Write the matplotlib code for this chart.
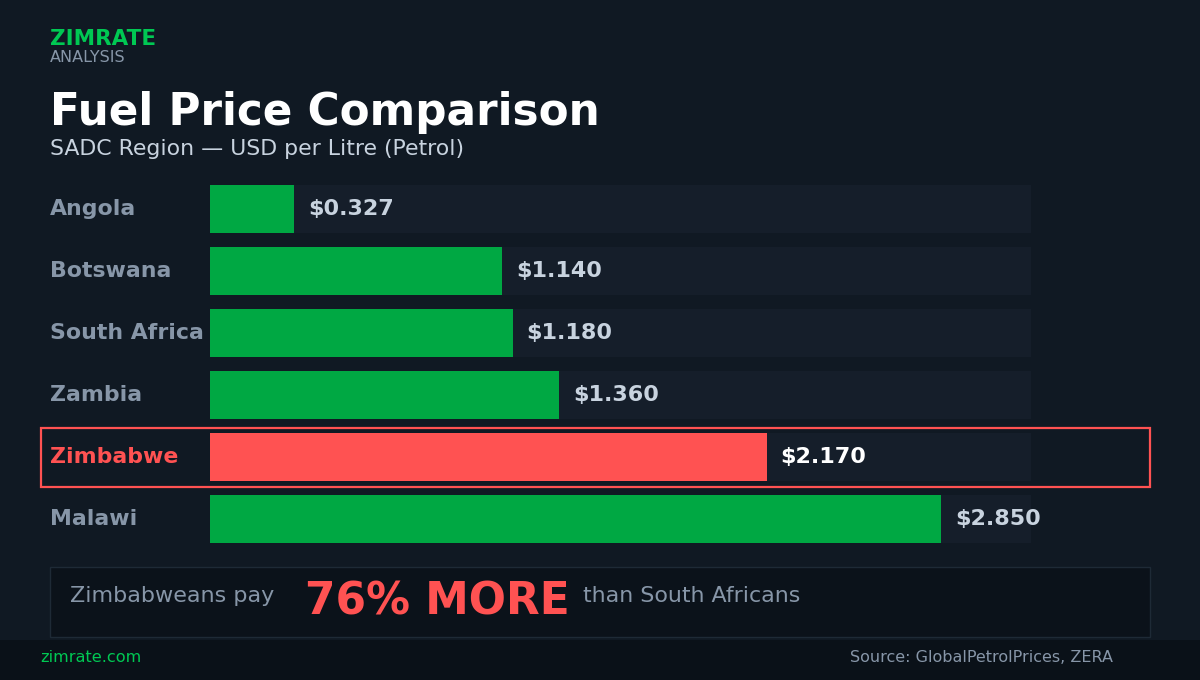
import matplotlib.pyplot as plt
from matplotlib.patches import Rectangle

plt.rcParams['font.family'] = ['DejaVu Sans']

countries = ["Angola", "Botswana", "South Africa", "Zambia", "Zimbabwe", "Malawi"]
prices = [0.327, 1.140, 1.180, 1.360, 2.170, 2.850]
highlight = "Zimbabwe"
track_max = 3.2

W, H = 1200, 680
bg = "#101923"
green = "#00a843"
red = "#ff5252"
track = "#151e2a"
label_gray = "#8796a8"
value_col = "#c8d3df"


def fx(px):
    return px / W


def fy(py):
    return 1 - py / H


fig = plt.figure(figsize=(12, 6.8), dpi=100, facecolor=bg)

# footer band and callout box
fig.patches.append(Rectangle((0, 0), 1, fy(640), transform=fig.transFigure,
                             facecolor="#0a1118", edgecolor="none", zorder=0))
fig.patches.append(Rectangle((fx(50), fy(637)), fx(1100), 70 / H, transform=fig.transFigure,
                             facecolor="#0b121a", edgecolor="#1e2a36", lw=1, zorder=0))
# highlight frame around Zimbabwe row
fig.patches.append(Rectangle((fx(41), fy(487)), fx(1109), 59 / H, transform=fig.transFigure,
                             facecolor="none", edgecolor=red, lw=1.6, zorder=5))

ax = fig.add_axes([fx(210), fy(550), fx(821), 372 / H])
ax.set_facecolor("none")
y = list(range(len(countries)))
ax.barh(y, [track_max] * len(countries), height=0.79, color=track, zorder=1)
cols = [red if c == highlight else green for c in countries]
ax.barh(y, prices, height=0.79, color=cols, zorder=2)
for i, (c, p) in enumerate(zip(countries, prices)):
    ax.text(p + 14 / 256.5, i, f"${p:.3f}", va="center", ha="left",
            fontsize=16, fontweight="bold",
            color="white" if c == highlight else value_col, zorder=3)
    fig.text(fx(50), fy(209 + 62 * i), c, va="center", ha="left",
             fontsize=15.8, fontweight="bold",
             color=red if c == highlight else label_gray)
ax.set_xlim(0, track_max)
ax.set_ylim(len(countries) - 0.5, -0.5)
ax.axis("off")

# header
fig.text(fx(50), fy(39), "ZIMRATE", fontsize=15.5, fontweight="bold", color="#00c853", va="center")
fig.text(fx(50), fy(58), "ANALYSIS", fontsize=11.5, color=label_gray, va="center")
fig.text(fx(50), fy(112), "Fuel Price Comparison", fontsize=31.5, fontweight="bold", color="white", va="center")
fig.text(fx(50), fy(149), "SADC Region \u2014 USD per Litre (Petrol)", fontsize=15.8, color=value_col, va="center")

# callout
fig.text(fx(70), fy(596), "Zimbabweans pay", fontsize=16, color=label_gray, va="center")
fig.text(fx(305), fy(602), "76% MORE", fontsize=31.6, fontweight="bold", color=red, va="center")
fig.text(fx(583), fy(596), "than South Africans", fontsize=15.9, color=label_gray, va="center")

# footer
fig.text(fx(40), fy(658), "zimrate.com", fontsize=11.6, color="#00c853", va="center")
fig.text(fx(850), fy(658), "Source: GlobalPetrolPrices, ZERA", fontsize=11.5, color=label_gray, va="center")

fig.savefig("out.png", dpi=100, facecolor=bg)
